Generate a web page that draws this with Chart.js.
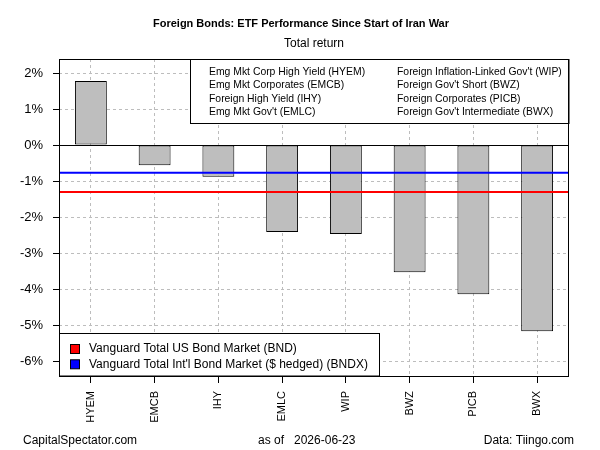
<!DOCTYPE html>
<html>
<head>
<meta charset="utf-8">
<script src="https://cdn.jsdelivr.net/npm/chart.js@4/dist/chart.umd.min.js"></script>
<style>
  html, body { margin:0; padding:0; background:#fff; }
  #wrap { width:600px; height:450px; }
</style>
</head>
<body>
<div id="wrap"><canvas id="c" width="600" height="450"></canvas></div>
<script>
// ---- data ----
const tickers   = ['HYEM','EMCB','IHY','EMLC','WIP','BWZ','PICB','BWX'];
const returns   = [1.78, -0.56, -0.88, -2.41, -2.47, -3.53, -4.14, -5.17];
const yTicks    = [-6,-5,-4,-3,-2,-1,0,1,2];
const yMin = -6.41, yMax = 2.39;

const fundNames = [
  'Emg Mkt Corp High Yield (HYEM)', 'Emg Mkt Corporates (EMCB)',
  'Foreign High Yield (IHY)', 'Emg Mkt Gov\'t (EMLC)',
  'Foreign Inflation-Linked Gov\'t (WIP)', 'Foreign Gov\'t Short (BWZ)',
  'Foreign Corporates (PICB)', 'Foreign Gov\'t Intermediate (BWX)'
];
const benchNames  = ['Vanguard Total US Bond Market (BND)', 'Vanguard Total Int\'l Bond Market ($ hedged) (BNDX)'];
const benchValues = [-1.30, -0.77];
const benchColors = ['#ff0000', '#0000ff'];

const FONT = 'Liberation Sans, Arial, sans-serif';

// box, zero line, benchmark lines, legends, titles
const decor = {
  id:'decor',
  afterDatasetsDraw(chart) {
    const { ctx, chartArea:a, scales:{ y } } = chart;
    ctx.save();
    // zero line
    ctx.strokeStyle = '#000'; ctx.lineWidth = 1;
    const z = Math.round(y.getPixelForValue(0)) + 0.5;
    ctx.beginPath(); ctx.moveTo(a.left, z); ctx.lineTo(a.right, z); ctx.stroke();
    // benchmark lines
    benchValues.forEach((v,i) => {
      const py = y.getPixelForValue(v);
      ctx.strokeStyle = benchColors[i]; ctx.lineWidth = 2;
      ctx.beginPath(); ctx.moveTo(a.left, py); ctx.lineTo(a.right, py); ctx.stroke();
    });
    // top legend
    ctx.fillStyle = '#fff'; ctx.strokeStyle = '#000'; ctx.lineWidth = 1;
    ctx.fillRect(190.5, a.top, a.right - 190.5, 64);
    ctx.strokeRect(190.5, a.top + 0.5, a.right - 190.5, 64);
    ctx.fillStyle = '#000'; ctx.font = '10.4px ' + FONT; ctx.textBaseline = 'middle'; ctx.textAlign = 'left';
    fundNames.forEach((n,i) => {
      const col = Math.floor(i/4), row = i%4;
      ctx.fillText(n, col ? 397 : 209, 72 + row*13.4);
    });
    // bottom legend
    ctx.fillStyle = '#fff';
    ctx.fillRect(a.left, 333.5, 320, a.bottom - 333.5);
    ctx.strokeRect(a.left + 0.5, 333.5, 320, a.bottom - 333.5);
    ctx.font = '12px ' + FONT;
    benchNames.forEach((n,i) => {
      const ty = 349 + i*15.3;
      ctx.fillStyle = benchColors[i];
      ctx.fillRect(70.5, ty - 4.5, 9, 9);
      ctx.strokeStyle = '#000'; ctx.strokeRect(70.5, ty - 4.5, 9, 9);
      ctx.fillStyle = '#000';
      ctx.fillText(n, 89, ty);
    });
    // plot box
    ctx.strokeStyle = '#000'; ctx.lineWidth = 1;
    ctx.strokeRect(a.left + 0.5, a.top + 0.5, a.right - a.left - 1, a.bottom - a.top);
    // titles and footer
    ctx.textAlign = 'center';
    ctx.font = 'bold 11px ' + FONT;
    ctx.fillText('Foreign Bonds: ETF Performance Since Start of Iran War', 301, 24);
    ctx.font = '12px ' + FONT;
    ctx.fillText('Total return', 314, 44);
    ctx.textAlign = 'left';
    ctx.fillText('CapitalSpectator.com', 23, 441);
    ctx.fillText('as of   2026-06-23', 258, 441);
    ctx.textAlign = 'right';
    ctx.fillText('Data: Tiingo.com', 574, 441);
    ctx.restore();
  }
};

new Chart(document.getElementById('c').getContext('2d'), {
  type:'bar',
  data:{ labels:tickers, datasets:[{
    data:returns, backgroundColor:'#bebebe', borderColor:'#000', borderWidth:1,
    barPercentage:0.5, categoryPercentage:1.0, borderSkipped:false
  }]},
  options:{
    responsive:false, animation:false,
    layout:{ padding:{ left:0, right:31, top:59, bottom:0 } },
    plugins:{ legend:{display:false}, tooltip:{enabled:false} },
    scales:{
      x:{
        grid:{ offset:false, color:'#bdbdbd', tickColor:'#000', tickBorderDash:[], tickLength:7, drawTicks:true },
        border:{ display:false, dash:[3,3] },
        ticks:{ color:'#000', font:{ family:FONT, size:11 }, minRotation:90, maxRotation:90, padding:8, autoSkip:false },
        afterFit:s => { s.height = 74; }
      },
      y:{
        min:yMin, max:yMax,
        afterBuildTicks:s => { s.ticks = yTicks.map(v => ({ value:v })); },
        grid:{ color:'#bdbdbd', tickColor:'#000', tickBorderDash:[], tickLength:6 },
        border:{ display:false, dash:[3,3] },
        ticks:{ color:'#000', font:{ family:FONT, size:13 }, padding:10, callback:v => v + '%' },
        afterFit:s => { s.width = 59; }
      }
    }
  },
  plugins:[decor]
});
</script>
</body>
</html>
